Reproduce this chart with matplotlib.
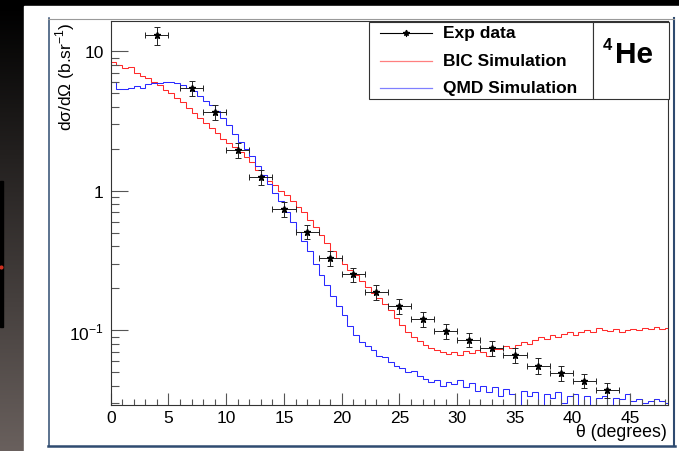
import numpy as np
import matplotlib.pyplot as plt
from matplotlib.patches import Rectangle
from matplotlib.lines import Line2D
from matplotlib.ticker import FixedLocator, MultipleLocator, NullFormatter

plt.rcParams['font.family'] = ['Liberation Sans', 'DejaVu Sans']
plt.rcParams['mathtext.fontset'] = 'custom'
plt.rcParams['mathtext.rm'] = 'Liberation Sans'
plt.rcParams['mathtext.bf'] = 'Liberation Sans:bold'

W, H = 679, 452

theta_exp = [4, 7, 9, 11, 13, 15, 17, 19, 21, 23, 25, 27, 29, 31, 33, 35, 37, 39, 41, 43]
xs_exp = [13.0, 5.45, 3.66, 1.96, 1.25, 0.743, 0.51, 0.328, 0.252, 0.189, 0.149, 0.120,
          0.0989, 0.0857, 0.0746, 0.0668, 0.056, 0.0493, 0.0437, 0.0374]
xs_err = [1.9, 0.7, 0.45, 0.24, 0.15, 0.09, 0.06, 0.04, 0.03, 0.023, 0.018, 0.015,
          0.012, 0.010, 0.009, 0.008, 0.007, 0.006, 0.005, 0.0045]
theta_err = [1.0] * len(theta_exp)

# simulated histograms, 0.5 degree bins from 0 to 48.5
bin_width = 0.5
bic = [8.4, 8.0, 7.6, 7.7, 7.0, 6.7, 6.4, 6.0, 5.7, 5.3,
       5.0, 4.6, 4.3, 3.95, 3.6, 3.35, 3.05, 2.8, 2.6, 2.35,
       2.2, 2.05, 1.9, 1.75, 1.6, 1.42, 1.3, 1.18, 1.1, 1.0,
       0.93, 0.85, 0.77, 0.70, 0.62, 0.55, 0.48, 0.42, 0.37, 0.33,
       0.30, 0.27, 0.25, 0.225, 0.205, 0.185, 0.17, 0.155, 0.14, 0.122,
       0.11, 0.097, 0.089, 0.084, 0.078, 0.075, 0.072, 0.070, 0.068, 0.070,
       0.067, 0.071, 0.069, 0.072, 0.070, 0.066, 0.074, 0.073, 0.077, 0.075,
       0.079, 0.082, 0.080, 0.086, 0.089, 0.087, 0.093, 0.090, 0.094, 0.097,
       0.092, 0.098, 0.100, 0.097, 0.104, 0.101, 0.099, 0.103, 0.098, 0.101,
       0.103, 0.100, 0.104, 0.102, 0.105, 0.103, 0.104]
qmd = [6.0, 5.4, 5.4, 5.5, 5.6, 5.5, 5.8, 5.9, 5.9, 6.0,
       6.0, 5.9, 5.75, 5.5, 5.2, 4.75, 4.4, 4.1, 3.75, 3.35,
       2.95, 2.55, 2.25, 2.0, 1.78, 1.52, 1.3, 1.12, 0.97, 0.84,
       0.71, 0.60, 0.51, 0.44, 0.37, 0.30, 0.25, 0.21, 0.175, 0.15,
       0.128, 0.108, 0.093, 0.083, 0.077, 0.072, 0.066, 0.064, 0.059, 0.056,
       0.054, 0.050, 0.051, 0.047, 0.045, 0.043, 0.044, 0.040, 0.043, 0.041,
       0.044, 0.039, 0.042, 0.037, 0.040, 0.036, 0.039, 0.034, 0.038, 0.035,
       0.027, 0.037, 0.034, 0.036, 0.026, 0.035, 0.033, 0.036, 0.030, 0.034,
       0.035, 0.027, 0.034, 0.029, 0.033, 0.034, 0.026, 0.033, 0.032, 0.035,
       0.031, 0.032, 0.030, 0.031, 0.032, 0.031, 0.030]
edges = np.arange(len(bic) + 1) * bin_width

red = '#ff2a2a'
blue = '#2a2aff'

fig = plt.figure(figsize=(W / 100, H / 100), dpi=100)

# slide background + ROOT canvas frame, in pixel coordinates
bg = fig.add_axes([0, 0, 1, 1], zorder=-10)
bg.set_xlim(0, W)
bg.set_ylim(H, 0)
bg.axis('off')
grad = np.linspace(0, 1, 256)[:, None, None] * np.array([105, 96, 93])[None, None, :] / 255
bg.imshow(np.repeat(grad, 2, axis=1), extent=[0, 24, H, 7], aspect='auto')
bg.add_patch(Rectangle((0, 0), W, 7, color='black'))
bg.add_patch(Rectangle((24, 7), W - 24, H - 7, color='white'))
bg.add_patch(Rectangle((0, 182), 3, 146, color='black'))
bg.plot([0.5], [268], marker='o', ms=2, color='#d03020')
frame_c = '#2f4b70'
bg.plot([48.5, 48.5], [19, 447], color=frame_c, lw=1.1)
bg.plot([48, 675], [446.5, 446.5], color=frame_c, lw=1.8)
bg.plot([673.5, 673.5], [19, 447], color=frame_c, lw=1.5)
bg.plot([48, 674], [19.5, 19.5], color='#9a9a9a', lw=0.8)

ax = fig.add_axes([110.7 / W, 1 - 406 / H, (668 - 110.7) / W, (406 - 22) / H])
ax.set_facecolor('none')
ax.stairs(bic, edges, color=red, lw=0.75, baseline=None)
ax.stairs(qmd, edges, color=blue, lw=0.75, baseline=None)
ax.errorbar(theta_exp, xs_exp, xerr=theta_err, yerr=xs_err, fmt='*', ms=4.5,
            color='black', ecolor='#222222', elinewidth=0.7, capsize=2, capthick=0.7)

ax.set_yscale('log')
ax.set_xlim(0, 48.25)
ax.set_ylim(0.0292, 16.5)
ax.xaxis.set_major_locator(MultipleLocator(5))
ax.xaxis.set_minor_locator(MultipleLocator(1))
ax.yaxis.set_major_locator(FixedLocator([0.1, 1, 10]))
ax.set_yticklabels(['10$^{-1}$', '1', '10'])
minor_y = [m * 10.0 ** e for e in (-2, -1, 0, 1) for m in range(2, 10)]
ax.yaxis.set_minor_locator(FixedLocator(minor_y))
ax.yaxis.set_minor_formatter(NullFormatter())
ax.tick_params(axis='both', which='both', direction='in', color='#555555', width=0.8,
               labelsize=12.5, top=False, right=False)
ax.tick_params(axis='x', which='major', length=8.6, pad=3.5)
ax.tick_params(axis='x', which='minor', length=4.5)
ax.tick_params(axis='y', which='major', length=12.2, pad=5)
ax.tick_params(axis='y', which='minor', length=5.8)
for s in ax.spines.values():
    s.set_color('#333333')
    s.set_linewidth(0.8)

fig.text(65 / W, 1 - 22 / H, 'd\u03c3/d\u03a9 (b.sr$^{-1}$)', rotation=90,
         ha='center', va='top', fontsize=12.5)
fig.text(667 / W, 1 - 433 / H, '\u03b8 (degrees)', ha='right', va='center', fontsize=12.8)

# legend box and nucleus label box
lax = fig.add_axes([0, 0, 1, 1], zorder=10)
lax.set_xlim(0, W)
lax.set_ylim(H, 0)
lax.axis('off')
lax.add_patch(Rectangle((368.5, 22.5), 224, 77, fc='white', ec='#333333', lw=0.8))
lax.add_patch(Rectangle((593, 22.5), 75.5, 77, fc='white', ec='#333333', lw=0.8))
rows = [33.5, 62, 89]
lax.add_line(Line2D([380, 432], [rows[0]] * 2, color='black', lw=0.8))
lax.plot([406], [rows[0]], marker='*', ms=4, color='black')
lax.plot([406, 406], [rows[0] - 3, rows[0] + 3], color='black', lw=0.8)
lax.add_line(Line2D([380, 432], [rows[1]] * 2, color=red, lw=0.9, alpha=0.6))
lax.add_line(Line2D([380, 432], [rows[2]] * 2, color=blue, lw=0.9, alpha=0.6))
for y, lab in zip(rows, ['Exp data', 'BIC Simulation', 'QMD Simulation']):
    lax.text(443, y, lab, ha='left', va='center', fontsize=12.5, fontweight='bold')
lax.text(603, 46, '4', ha='left', va='center', fontsize=12, fontweight='bold')
lax.text(615, 55, 'He', ha='left', va='center', fontsize=21.5, fontweight='bold')

fig.savefig('out.png', dpi=100)
